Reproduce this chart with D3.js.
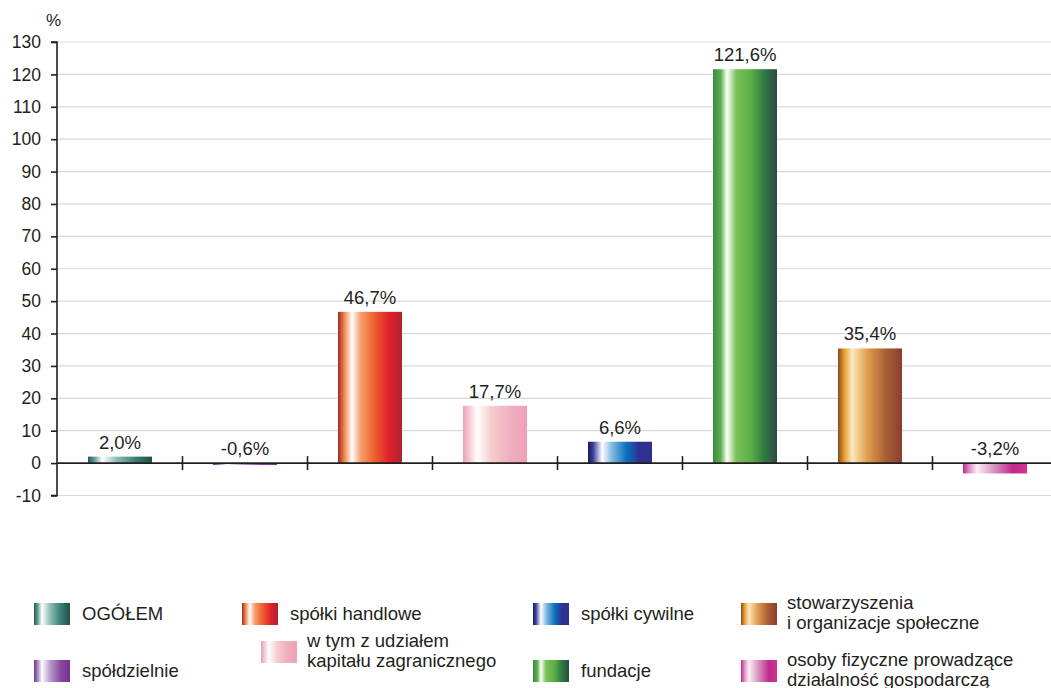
<!DOCTYPE html>
<html>
<head>
<meta charset="utf-8">
<script src="https://cdn.jsdelivr.net/npm/d3@7"></script>
<style>
  body { margin: 0; background: #fff; }
  text { font-family: "Liberation Sans", Arial, sans-serif; fill: #231f20; }
</style>
</head>
<body>
<script>
const categories = ["OGÓŁEM", "spółdzielnie", "spółki handlowe", "w tym z udziałem kapitału zagranicznego",
  "spółki cywilne", "fundacje", "stowarzyszenia i organizacje społeczne", "osoby fizyczne prowadzące działalność gospodarczą"]
const values = [2.0, -0.6, 46.7, 17.7, 6.6, 121.6, 35.4, -3.2]
const valueLabels = ["2,0%", "-0,6%", "46,7%", "17,7%", "6,6%", "121,6%", "35,4%", "-3,2%"]
const yTicks = [-10, 0, 10, 20, 30, 40, 50, 60, 70, 80, 90, 100, 110, 120, 130]

// gradient stops for each series (left -> right)
const gradients = [
  [["0", "#24574f"], ["0.1", "#5f9c94"], ["0.22", "#ffffff"], ["0.45", "#8cbcb4"], ["0.75", "#3a7d74"], ["1", "#1f5249"]],
  [["0", "#74358f"], ["0.1", "#a77fbf"], ["0.22", "#ffffff"], ["0.45", "#b99acb"], ["0.75", "#8748a1"], ["1", "#7a2e92"]],
  [["0", "#9e2a2b"], ["0.1", "#f0874a"], ["0.22", "#ffffff"], ["0.35", "#f5a070"], ["0.55", "#ef6530"], ["0.8", "#e0202c"], ["1", "#ad2430"]],
  [["0", "#eea0b9"], ["0.1", "#f5cad4"], ["0.22", "#ffffff"], ["0.45", "#f5cccc"], ["0.75", "#f0adbe"], ["1", "#eea0b9"]],
  [["0", "#1b1c4f"], ["0.08", "#3a3f9e"], ["0.22", "#ffffff"], ["0.38", "#7fb6e0"], ["0.6", "#0a72bd"], ["0.8", "#2e3192"], ["1", "#2e3192"]],
  [["0", "#3a8a44"], ["0.12", "#5bb04b"], ["0.22", "#ffffff"], ["0.36", "#7cc25a"], ["0.6", "#5aad45"], ["0.8", "#2f7a45"], ["1", "#2b4a3f"]],
  [["0", "#8a4a1e"], ["0.1", "#e89e30"], ["0.22", "#fbe8c0"], ["0.45", "#e2a050"], ["0.75", "#a85e34"], ["1", "#8a3e2c"]],
  [["0", "#c22a8f"], ["0.1", "#e090c4"], ["0.22", "#fbeef5"], ["0.5", "#d58ebd"], ["0.78", "#c02889"], ["1", "#d03494"]]
]

const w = 1051
const h = 688
const fs = "18.5px"

const svg = d3.select("body").append("svg")
  .attr("width", w)
  .attr("height", h)

const defs = svg.append("defs")
gradients.forEach((stops, i) => {
  const g = defs.append("linearGradient")
    .attr("id", "grad" + i)
    .attr("x1", "0").attr("x2", "1").attr("y1", "0").attr("y2", "0")
  stops.forEach(s => g.append("stop").attr("offset", s[0]).attr("stop-color", s[1]))
})

const xScale = d3.scaleBand()
  .domain(categories)
  .range([57.5, 1057.5])
  .padding(0)

const yScale = d3.scaleLinear()
  .domain([-10, 130])
  .range([495.5, 42])

// grid
svg.append("g")
  .selectAll("line")
  .data(yTicks.filter(t => t !== 0))
  .enter()
  .append("line")
  .attr("x1", 57).attr("x2", w)
  .attr("y1", d => yScale(d)).attr("y2", d => yScale(d))
  .attr("stroke", "#d9d9d9")
  .attr("stroke-width", 1.2)

// y axis
const yAxis = d3.axisLeft(yScale)
  .tickValues(yTicks)
  .tickSize(6)
  .tickPadding(10)
  .tickFormat(d => d)

const yg = svg.append("g")
  .attr("transform", "translate(57,0)")
  .call(yAxis)
yg.select(".domain").attr("stroke", "#231f20").attr("stroke-width", 1.6).attr("d", "M-6,42H0V495.5H-6")
yg.selectAll(".tick line").attr("stroke", "#231f20").attr("stroke-width", 1.6)
yg.selectAll(".tick text").style("font-size", "17.5px").attr("fill", "#231f20").style("font-family", "Liberation Sans, Arial, sans-serif")

svg.append("text")
  .attr("x", 46).attr("y", 26)
  .style("font-size", "17px")
  .text("%")

// bars
const barW = 64
svg.selectAll("rect.bar")
  .data(values)
  .enter()
  .append("rect")
  .attr("class", "bar")
  .attr("x", (d, i) => xScale(categories[i]) + xScale.bandwidth() / 2 - barW / 2)
  .attr("y", d => yScale(Math.max(d, 0)))
  .attr("width", barW)
  .attr("height", d => Math.abs(yScale(d) - yScale(0)))
  .attr("fill", (d, i) => "url(#grad" + i + ")")

// zero line + category ticks
const xAxis = d3.axisBottom(xScale).tickSize(0).tickFormat("")
const xg = svg.append("g")
  .attr("transform", "translate(0," + yScale(0) + ")")
  .call(xAxis)
xg.select(".domain").attr("stroke", "#231f20").attr("stroke-width", 1.6).attr("d", "M57,0H" + w)
xg.selectAll(".tick").remove()
xg.selectAll("line.sep")
  .data(categories.slice(1))
  .enter()
  .append("line")
  .attr("class", "sep")
  .attr("x1", d => xScale(d)).attr("x2", d => xScale(d))
  .attr("y1", -7).attr("y2", 7)
  .attr("stroke", "#231f20")
  .attr("stroke-width", 1.6)

// value labels
svg.selectAll("text.val")
  .data(values)
  .enter()
  .append("text")
  .attr("class", "val")
  .attr("x", (d, i) => xScale(categories[i]) + xScale.bandwidth() / 2)
  .attr("y", d => yScale(Math.max(d, 0)) - 8)
  .attr("text-anchor", "middle")
  .style("font-size", fs)
  .text((d, i) => valueLabels[i])

// legend
const legend = [
  {i: 0, x: 34, y: 603, lines: ["OGÓŁEM"]},
  {i: 2, x: 242, y: 603, lines: ["spółki handlowe"]},
  {i: 3, x: 261, y: 641, lines: ["w tym z udziałem", "kapitału zagranicznego"]},
  {i: 1, x: 34, y: 660, lines: ["spółdzielnie"]},
  {i: 4, x: 533, y: 603, lines: ["spółki cywilne"]},
  {i: 5, x: 533, y: 660, lines: ["fundacje"]},
  {i: 6, x: 741, y: 603, lines: ["stowarzyszenia", "i organizacje społeczne"]},
  {i: 7, x: 741, y: 660, lines: ["osoby fizyczne prowadzące", "działalność gospodarczą"]}
]

const lg = svg.append("g")
legend.forEach(d => {
  lg.append("rect")
    .attr("x", d.x).attr("y", d.y)
    .attr("width", 36).attr("height", 22)
    .attr("fill", "url(#grad" + d.i + ")")
  const t = lg.append("text")
    .attr("x", d.x + 48)
    .style("font-size", fs)
  if (d.lines.length === 1) {
    t.attr("y", d.y + 17).text(d.lines[0])
  } else {
    t.attr("y", d.y + 6)
    d.lines.forEach((l, k) => t.append("tspan").attr("x", d.x + 46).attr("dy", k === 0 ? 0 : 20).text(l))
  }
})
</script>
</body>
</html>
